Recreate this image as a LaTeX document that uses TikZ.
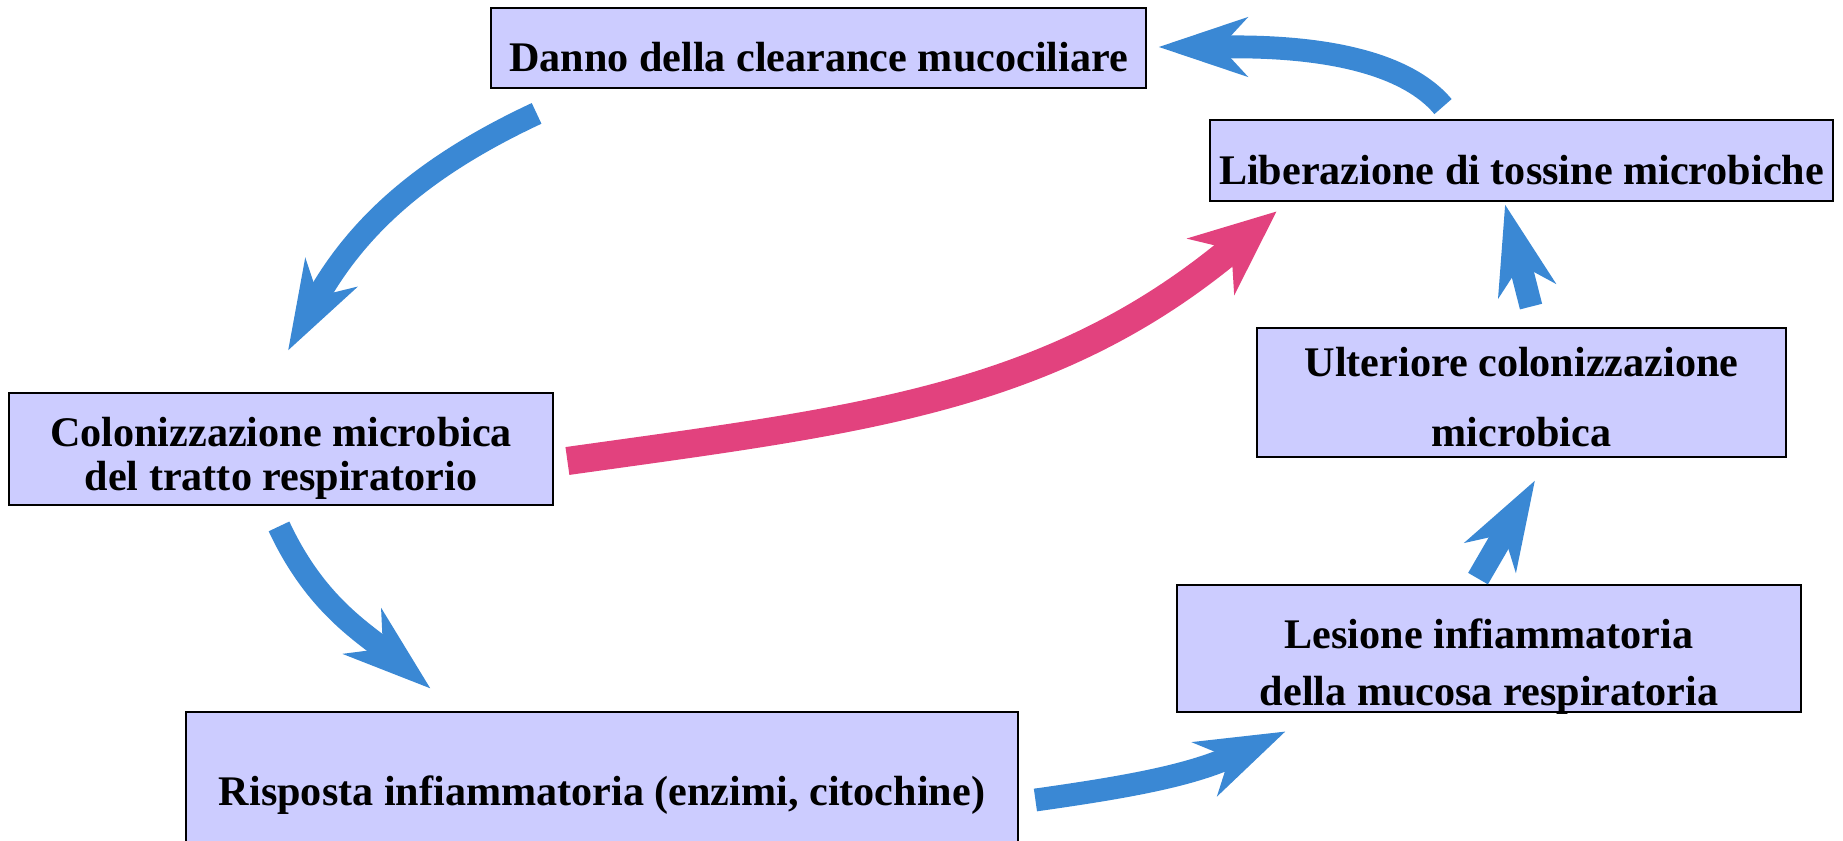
\documentclass[tikz,border=0pt]{standalone}
\usepackage{fontspec}
\setmainfont{Liberation Serif}
\usetikzlibrary{arrows.meta,calc}

\definecolor{boxfill}{RGB}{204,204,255}
\definecolor{cycleblue}{RGB}{58,136,212}
\definecolor{toxinpink}{RGB}{226,66,126}

\tikzset{
  stepbox/.style={draw=black, line width=0.8pt, fill=boxfill, inner sep=0pt,
    font=\bfseries\fontsize{12}{12.5}\selectfont, align=center},
  oneline/.style={text height=0.48cm, text depth=0pt},
  flow/.style={draw=cycleblue, line width=6.5pt,
    -{Stealth[length=0.88cm, width=0.58cm, inset=0.26cm]}},
  toxflow/.style={draw=toxinpink, line width=8pt,
    -{Stealth[length=0.85cm, width=0.72cm, inset=0.26cm]}}
}

\begin{document}
\begin{tikzpicture}

      \useasboundingbox (0,0) rectangle (18.43,8.4);
      \clip (0,0) rectangle (18.43,8.4);

      % Boxes
      \node[stepbox, oneline, minimum width=6.55cm, minimum height=0.80cm] (danno) at (8.185,7.92) {Danno della clearance mucociliare};
      \node[stepbox, oneline, minimum width=6.23cm, minimum height=0.81cm] (liber) at (15.215,6.795) {Liberazione di tossine microbiche};
      \node[stepbox, text height=1.14cm, text depth=0.05cm, minimum width=5.29cm, minimum height=1.29cm] (ulter) at (15.215,4.475) {Ulteriore colonizzazione\\[7.7pt]microbica};
      \node[stepbox, text height=0.88cm, text depth=0.05cm, minimum width=5.44cm, minimum height=1.12cm] (colon) at (2.81,3.91) {Colonizzazione microbica\\del tratto respiratorio};
      \node[stepbox, text height=1.13cm, text depth=0cm, minimum width=6.24cm, minimum height=1.27cm] (lesione) at (14.89,1.915) {Lesione infiammatoria\\[3.5pt]della mucosa respiratoria};
      \node[stepbox, oneline, minimum width=8.32cm, minimum height=1.38cm] (risposta) at (6.02,0.59) {Risposta infiammatoria (enzimi, citochine)};

      % Cycle
      \draw[flow] ($(danno.south west)+(0.47,-0.24)$) to[out=205, in=61] ($(colon.north)+(0.07,0.41)$);
      \draw[flow] ($(colon.south)+(-0.02,-0.20)$) to[out=-65, in=140] ($(risposta.north west)+(2.46,0.22)$);
      \draw[flow] ($(risposta.east)+(0.16,-0.19)$) to[out=8, in=205] ($(lesione.south west)+(1.10,-0.18)$);
      \draw[flow] ($(lesione.north)+(-0.11,0.05)$) -- ($(ulter.south)+(0.135,-0.22)$);
      \draw[flow] ($(ulter.north)+(0.095,0.20)$) -- ($(liber.south)+(-0.165,-0.02)$);
      \draw[flow] ($(liber.north)+(-0.785,0.12)$) to[out=130, in=0, looseness=0.75] ($(danno.east)+(0.11,0.01)$);

      % Toxins
      \draw[toxflow] ($(colon.east)+(0.13,-0.12)$) to[out=8, in=220] ($(liber.south west)+(0.68,-0.09)$);

\end{tikzpicture}
\end{document}
